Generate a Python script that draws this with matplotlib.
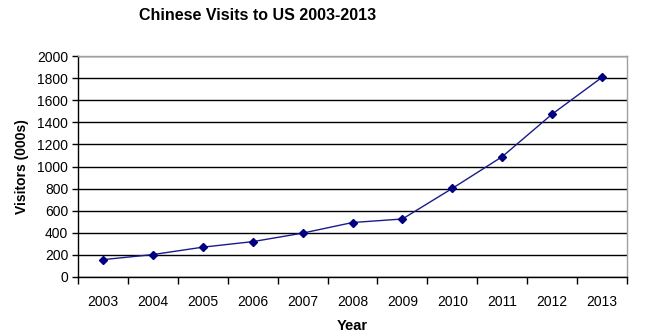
import matplotlib
matplotlib.use("Agg")
import matplotlib.pyplot as plt
from matplotlib.ticker import MultipleLocator

years = ["2003", "2004", "2005", "2006", "2007", "2008", "2009", "2010", "2011", "2012", "2013"]
visitors = [157, 203, 270, 320, 397, 493, 525, 802, 1089, 1474, 1807]

plt.rcParams["font.family"] = ["Liberation Sans", "DejaVu Sans"]

fig = plt.figure(figsize=(6.45, 3.34), dpi=100)
ax = fig.add_axes([78 / 645, 1 - 277 / 334, 549 / 645, 221 / 334])

x = list(range(len(years)))
ax.plot(x, visitors, color="#1a1a8c", lw=1.0, marker="D", ms=4.5,
        markerfacecolor="#000080", markeredgecolor="#000080")

ax.set_xlim(-0.5, len(years) - 0.5)
ax.set_ylim(0, 2000)
ax.yaxis.set_major_locator(MultipleLocator(200))
ax.set_xticks(x)
ax.set_xticklabels(years)
ax.set_xticks([i - 0.5 for i in range(len(years) + 1)], minor=True)
ax.tick_params(axis="x", which="major", length=0, pad=13, labelsize=10)
ax.tick_params(axis="x", which="minor", length=5, width=1, color="black", direction="out")
ax.tick_params(axis="y", length=4, width=1, color="black", labelsize=10, pad=3)

ax.grid(axis="y", color="black", lw=1)
ax.set_axisbelow(True)
for side in ("left", "bottom"):
    ax.spines[side].set_color("black")
    ax.spines[side].set_linewidth(1)
for side in ("top", "right"):
    ax.spines[side].set_color("#a0a0a0")
    ax.spines[side].set_linewidth(1)

ax.set_ylabel("Visitors (000s)", fontsize=10, fontweight="bold", labelpad=6)
ax.set_xlabel("Year", fontsize=10.5, fontweight="bold", labelpad=7)
fig.suptitle("Chinese Visits to US 2003-2013", fontsize=11.5, fontweight="bold", x=0.40, y=0.975)

fig.savefig("out.png", dpi=100)
